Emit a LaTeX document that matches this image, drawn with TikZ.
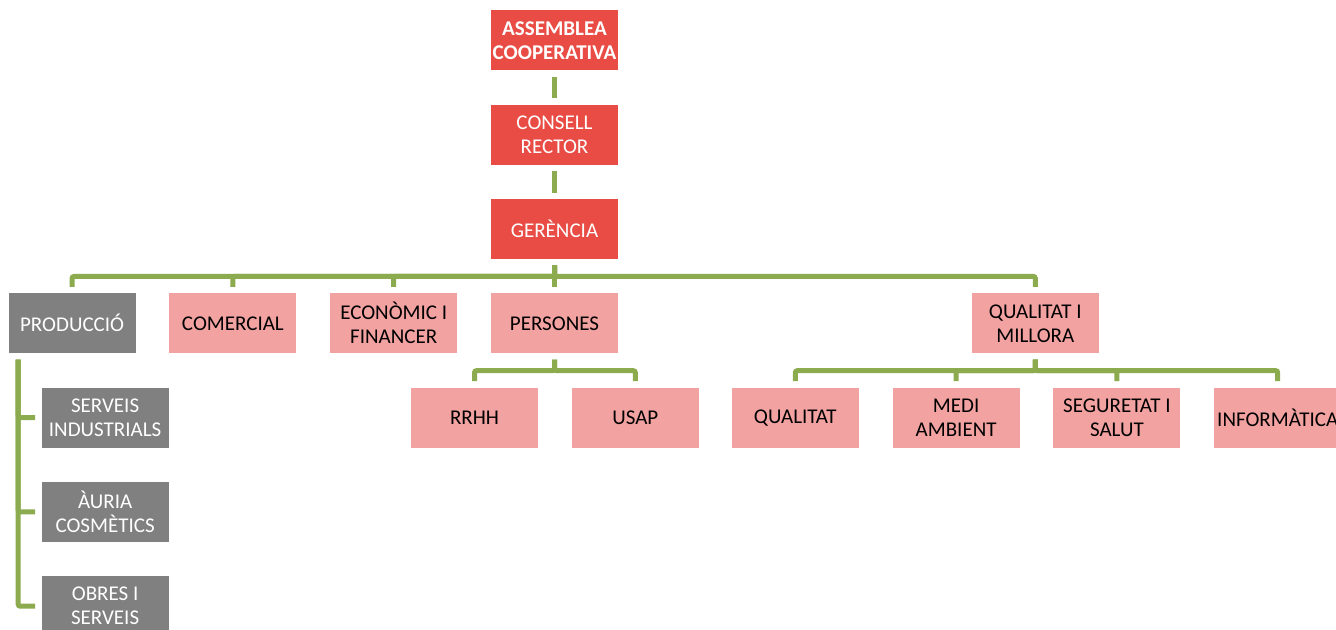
\documentclass[tikz,border=0pt]{standalone}
\usepackage{fontspec}
\setmainfont{Carlito}
\usepackage{tikz}
\usetikzlibrary{positioning}
\definecolor{boxred}{RGB}{232,76,68}
\definecolor{boxpink}{RGB}{242,163,161}
\definecolor{boxgray}{RGB}{128,128,128}
\definecolor{linkgreen}{RGB}{140,171,79}
\tikzstyle{unit} = [rectangle, minimum width=63.5pt, minimum height=30pt, inner xsep=1pt, align=center, font=\fontsize{10.5pt}{12pt}\selectfont]
\tikzstyle{boss} = [unit, fill=boxred, text=white]
\tikzstyle{dept} = [unit, fill=boxpink, text=black]
\tikzstyle{prod} = [unit, fill=boxgray, text=white]
\tikzset{
 link/.style
  = {draw=linkgreen, line width=2.5pt, rounded corners=1pt, shorten <=3pt, shorten >=3pt},
}
\begin{document}
\begin{tikzpicture}[node distance=16.75pt]
\useasboundingbox (0,0) rectangle (668pt,-315pt);
\node (assemblea) [boss, anchor=north, font=\fontsize{10.5pt}{12pt}\selectfont\bfseries] at (277.25pt,-5pt) {ASSEMBLEA\\COOPERATIVA};
\node (consell) [boss, below=of assemblea] {CONSELL\\RECTOR};
\node (gerencia) [boss, below=of consell] {GERÈNCIA};
\node (persones) [dept, below=of gerencia] {PERSONES};
\node (economic) [dept, left=16.5pt of persones] {ECONÒMIC I\\FINANCER};
\node (comercial) [dept, left=16.5pt of economic] {COMERCIAL};
\node (produccio) [prod, left=16.5pt of comercial] {PRODUCCIÓ};
\node (millora) [dept, right=176.5pt of persones] {QUALITAT I\\MILLORA};
\node (rrhh) [dept, below=of persones, xshift=-40pt] {RRHH};
\node (usap) [dept, right=16.5pt of rrhh] {USAP};
\node (qualitat) [dept, below=of millora, xshift=-120pt] {QUALITAT};
\node (medi) [dept, right=16.5pt of qualitat] {MEDI\\AMBIENT};
\node (seguretat) [dept, right=16.5pt of medi] {SEGURETAT I\\SALUT};
\node (informatica) [dept, right=16.5pt of seguretat] {INFORMÀTICA};
\node (serveis) [prod, below=of produccio, xshift=16.5pt] {SERVEIS\\INDUSTRIALS};
\node (auria) [prod, below=of serveis] {ÀURIA\\COSMÈTICS};
\node (obres) [prod, below=of auria] {OBRES I\\SERVEIS};
\draw [link] (assemblea) -- (consell);
\draw [link] (consell) -- (gerencia);
\draw [link] (gerencia) -- (persones);
\draw [link] (gerencia.south) -- ++(0,-8.5pt) -| (produccio.north);
\draw [link] (gerencia.south) -- ++(0,-8.5pt) -| (comercial.north);
\draw [link] (gerencia.south) -- ++(0,-8.5pt) -| (economic.north);
\draw [link] (gerencia.south) -- ++(0,-8.5pt) -| (millora.north);
\draw [link] (persones.south) -- ++(0,-8.5pt) -| (rrhh.north);
\draw [link] (persones.south) -- ++(0,-8.5pt) -| (usap.north);
\draw [link] (millora.south) -- ++(0,-8.5pt) -| (qualitat.north);
\draw [link] (millora.south) -- ++(0,-8.5pt) -| (medi.north);
\draw [link] (millora.south) -- ++(0,-8.5pt) -| (seguretat.north);
\draw [link] (millora.south) -- ++(0,-8.5pt) -| (informatica.north);
\draw [link] ([xshift=5pt]produccio.south west) |- (serveis.west);
\draw [link] ([xshift=5pt]produccio.south west) |- (auria.west);
\draw [link] ([xshift=5pt]produccio.south west) |- (obres.west);
\end{tikzpicture}
\end{document}
